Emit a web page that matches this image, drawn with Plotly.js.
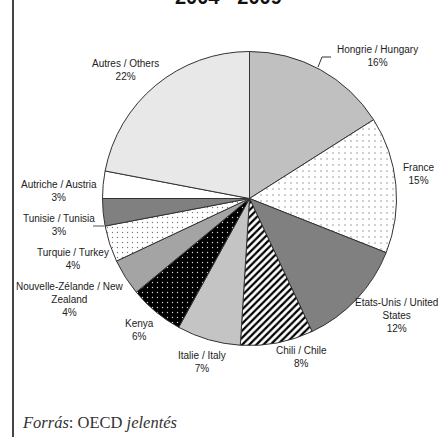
<!DOCTYPE html>
<html>
<head>
<meta charset="utf-8">
<script src="https://cdn.plot.ly/plotly-3.0.1.min.js"></script>
<style>html,body{margin:0;padding:0;background:#fff;}#chart{width:438px;height:437px;}</style>
</head>
<body>
<div id="chart"></div>
<script>
// ---- data ----
const categories = ['Hongrie / Hungary', 'France', 'Etats-Unis / United States', 'Chili / Chile',
  'Italie / Italy', 'Kenya', 'Nouvelle-Zélande / New Zealand', 'Turquie / Turkey',
  'Tunisie / Tunisia', 'Autriche / Austria', 'Autres / Others'];
const shares = [16, 15, 12, 8, 7, 6, 4, 4, 3, 3, 22];
const titleText = '2004 - 2009';
const sourceText = '<i>Forrás</i>: OECD <i>jelentés</i>';

// ---- styling (not data) ----
const W = 438, H = 437;
const px = x => x / W;
const py = y => 1 - y / H;
const wrap = {
  'Etats-Unis / United States': 'Etats-Unis / United<br>States',
  'Nouvelle-Zélande / New Zealand': 'Nouvelle-Zélande / New<br>Zealand'
};
const labelPos = [[377, 56.5], [419, 174], [396, 315], [301, 357], [202, 361.5], [139, 330],
  [69, 299], [73, 259], [59, 225], [59, 191], [125, 69.5]];

const colors   = ['#c0c0c0', '#ffffff', '#808080', '#ffffff', '#c4c4c4', '#000000', '#a4a4a4', '#ffffff', '#808080', '#ffffff', '#e8e8e8'];
const pShape   = ['', '.', '', '/', '', '.', '', '.', '', '', ''];
const pBg      = ['#c0c0c0', '#ffffff', '#808080', '#ffffff', '#c4c4c4', '#000000', '#a4a4a4', '#ffffff', '#808080', '#ffffff', '#e8e8e8'];
const pFg      = ['#c0c0c0', '#8a8a8a', '#808080', '#000000', '#c4c4c4', '#d8d8d8', '#a4a4a4', '#777777', '#808080', '#ffffff', '#e8e8e8'];
const pSize    = [6, 6, 6, 5, 6, 5, 6, 5, 6, 6, 6];
const pSolid   = [0.3, 0.05, 0.3, 0.45, 0.3, 0.06, 0.3, 0.06, 0.3, 0.3, 0.3];

const cx = 249.5, cy = 198.5, R = 147;

const trace = {
  type: 'pie',
  labels: categories,
  values: shares,
  sort: false,
  direction: 'clockwise',
  rotation: 0,
  textinfo: 'none',
  hoverinfo: 'label+percent',
  domain: {x: [px(cx - R), px(cx + R)], y: [py(cy + R), py(cy - R)]},
  marker: {
    colors: colors,
    line: {color: '#333333', width: 1},
    pattern: {shape: pShape, bgcolor: pBg, fgcolor: pFg, size: pSize, solidity: pSolid, fillmode: 'replace'}
  },
  showlegend: false
};

const annotations = categories.map((c, i) => ({
  xref: 'paper', yref: 'paper', x: px(labelPos[i][0]), y: py(labelPos[i][1]),
  xanchor: 'center', yanchor: 'middle', showarrow: false,
  text: (wrap[c] || c) + '<br>' + shares[i] + '%',
  font: {family: 'Liberation Sans, Arial, sans-serif', size: 10, color: '#222'}
}));
annotations.push({
  xref: 'paper', yref: 'paper', x: px(228), y: py(-3), xanchor: 'center', yanchor: 'middle',
  showarrow: false, text: '<b>' + titleText + '</b>',
  font: {family: 'Liberation Sans, Arial, sans-serif', size: 20, color: '#111'}
});
annotations.push({
  xref: 'paper', yref: 'paper', x: px(20), y: py(422), xanchor: 'left', yanchor: 'middle',
  showarrow: false, text: sourceText,
  font: {family: 'Liberation Serif, DejaVu Serif, serif', size: 16.5, color: '#333'}
});

const shapes = [
  {type: 'line', xref: 'paper', yref: 'paper', x0: px(13), x1: px(13), y0: py(0), y1: py(437), line: {color: '#444', width: 2}},
  {type: 'path', xref: 'paper', yref: 'paper',
   path: `M ${px(318)} ${py(67)} L ${px(322)} ${py(57)} L ${px(331)} ${py(57)}`, line: {color: '#333', width: 1}},
  {type: 'line', xref: 'paper', yref: 'paper', x0: px(93), x1: px(104), y0: py(226), y1: py(226), line: {color: '#555', width: 1}}
];

const layout = {
  width: W, height: H,
  margin: {l: 0, r: 0, t: 0, b: 0},
  paper_bgcolor: '#fff', plot_bgcolor: '#fff',
  annotations: annotations,
  shapes: shapes,
  showlegend: false
};

Plotly.newPlot('chart', [trace], layout, {displayModeBar: false, staticPlot: true});
</script>
</body>
</html>
